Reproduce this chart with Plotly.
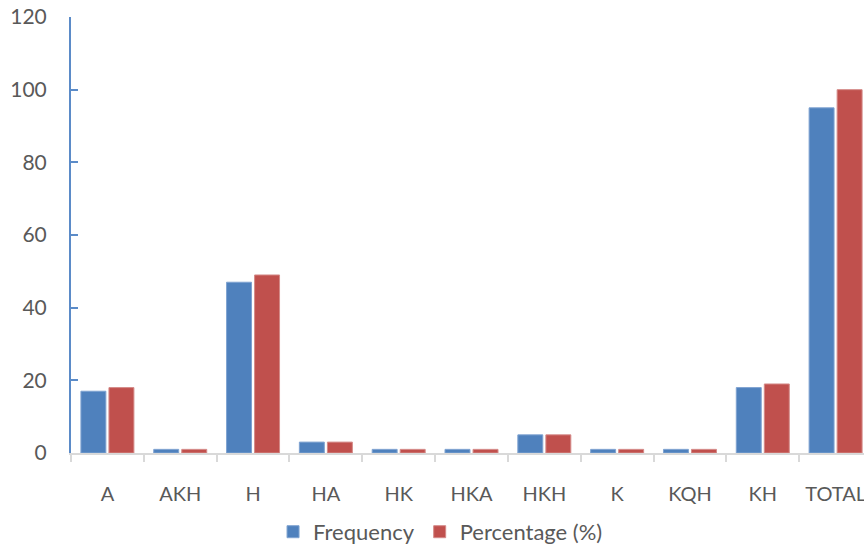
import plotly.graph_objects as go

categories = ["A", "AKH", "H", "HA", "HK", "HKA", "HKH", "K", "KQH", "KH", "TOTAL"]
frequency = [17, 1, 47, 3, 1, 1, 5, 1, 1, 18, 95]
percentage = [18, 1, 49, 3, 1, 1, 5, 1, 1, 19, 100]
y_ticks = [0, 20, 40, 60, 80, 100, 120]

FONT = "Lato"
GRAY = "#595959"
FS = 22

fig = go.Figure()
fig.add_trace(go.Bar(x=categories, y=frequency, name="Frequency",
                     marker=dict(color="#4F81BD", line=dict(color="#7FA3D1", width=1))))
fig.add_trace(go.Bar(x=categories, y=percentage, name="Percentage (%)",
                     marker=dict(color="#C0504D", line=dict(color="#D48A88", width=1))))

fig.update_layout(
    width=864, height=548,
    margin=dict(l=71, r=0, t=17, b=95, autoexpand=False),
    plot_bgcolor="white", paper_bgcolor="white",
    barmode="group", bargap=0.23, bargroupgap=0.11,
    font=dict(family=FONT, size=FS, color=GRAY),
    showlegend=True,
    legend=dict(orientation="h", x=0.466, xanchor="center", y=-0.181, yanchor="middle",
                font=dict(family=FONT, size=FS, color=GRAY), itemwidth=30,
                traceorder="normal"),
)
fig.update_xaxes(
    type="category", range=[-0.5, 10.39], automargin=False, tickangle=0,
    showline=True, linecolor="#D9D9D9", linewidth=2,
    ticks="outside", tickson="boundaries", ticklen=7, tickcolor="#D9D9D9", tickwidth=2,
    ticklabelstandoff=22, showgrid=False, ticklabeloverflow="allow",
    tickfont=dict(family=FONT, size=20, color=GRAY),
)
fig.update_yaxes(
    range=[0, 120], tickvals=y_ticks, automargin=False,
    showline=True, linecolor="#5B8BC8", linewidth=2,
    ticks="inside", ticklen=7, tickcolor="#5B8BC8", tickwidth=2,
    showgrid=False, zeroline=False, ticklabelstandoff=18, ticklabeloverflow="allow",
    tickfont=dict(family=FONT, size=21, color=GRAY),
)
fig.write_html("out.html",
               config={"displayModeBar": False},
               post_script="document.body.style.margin='0';document.body.style.overflow='hidden';")
